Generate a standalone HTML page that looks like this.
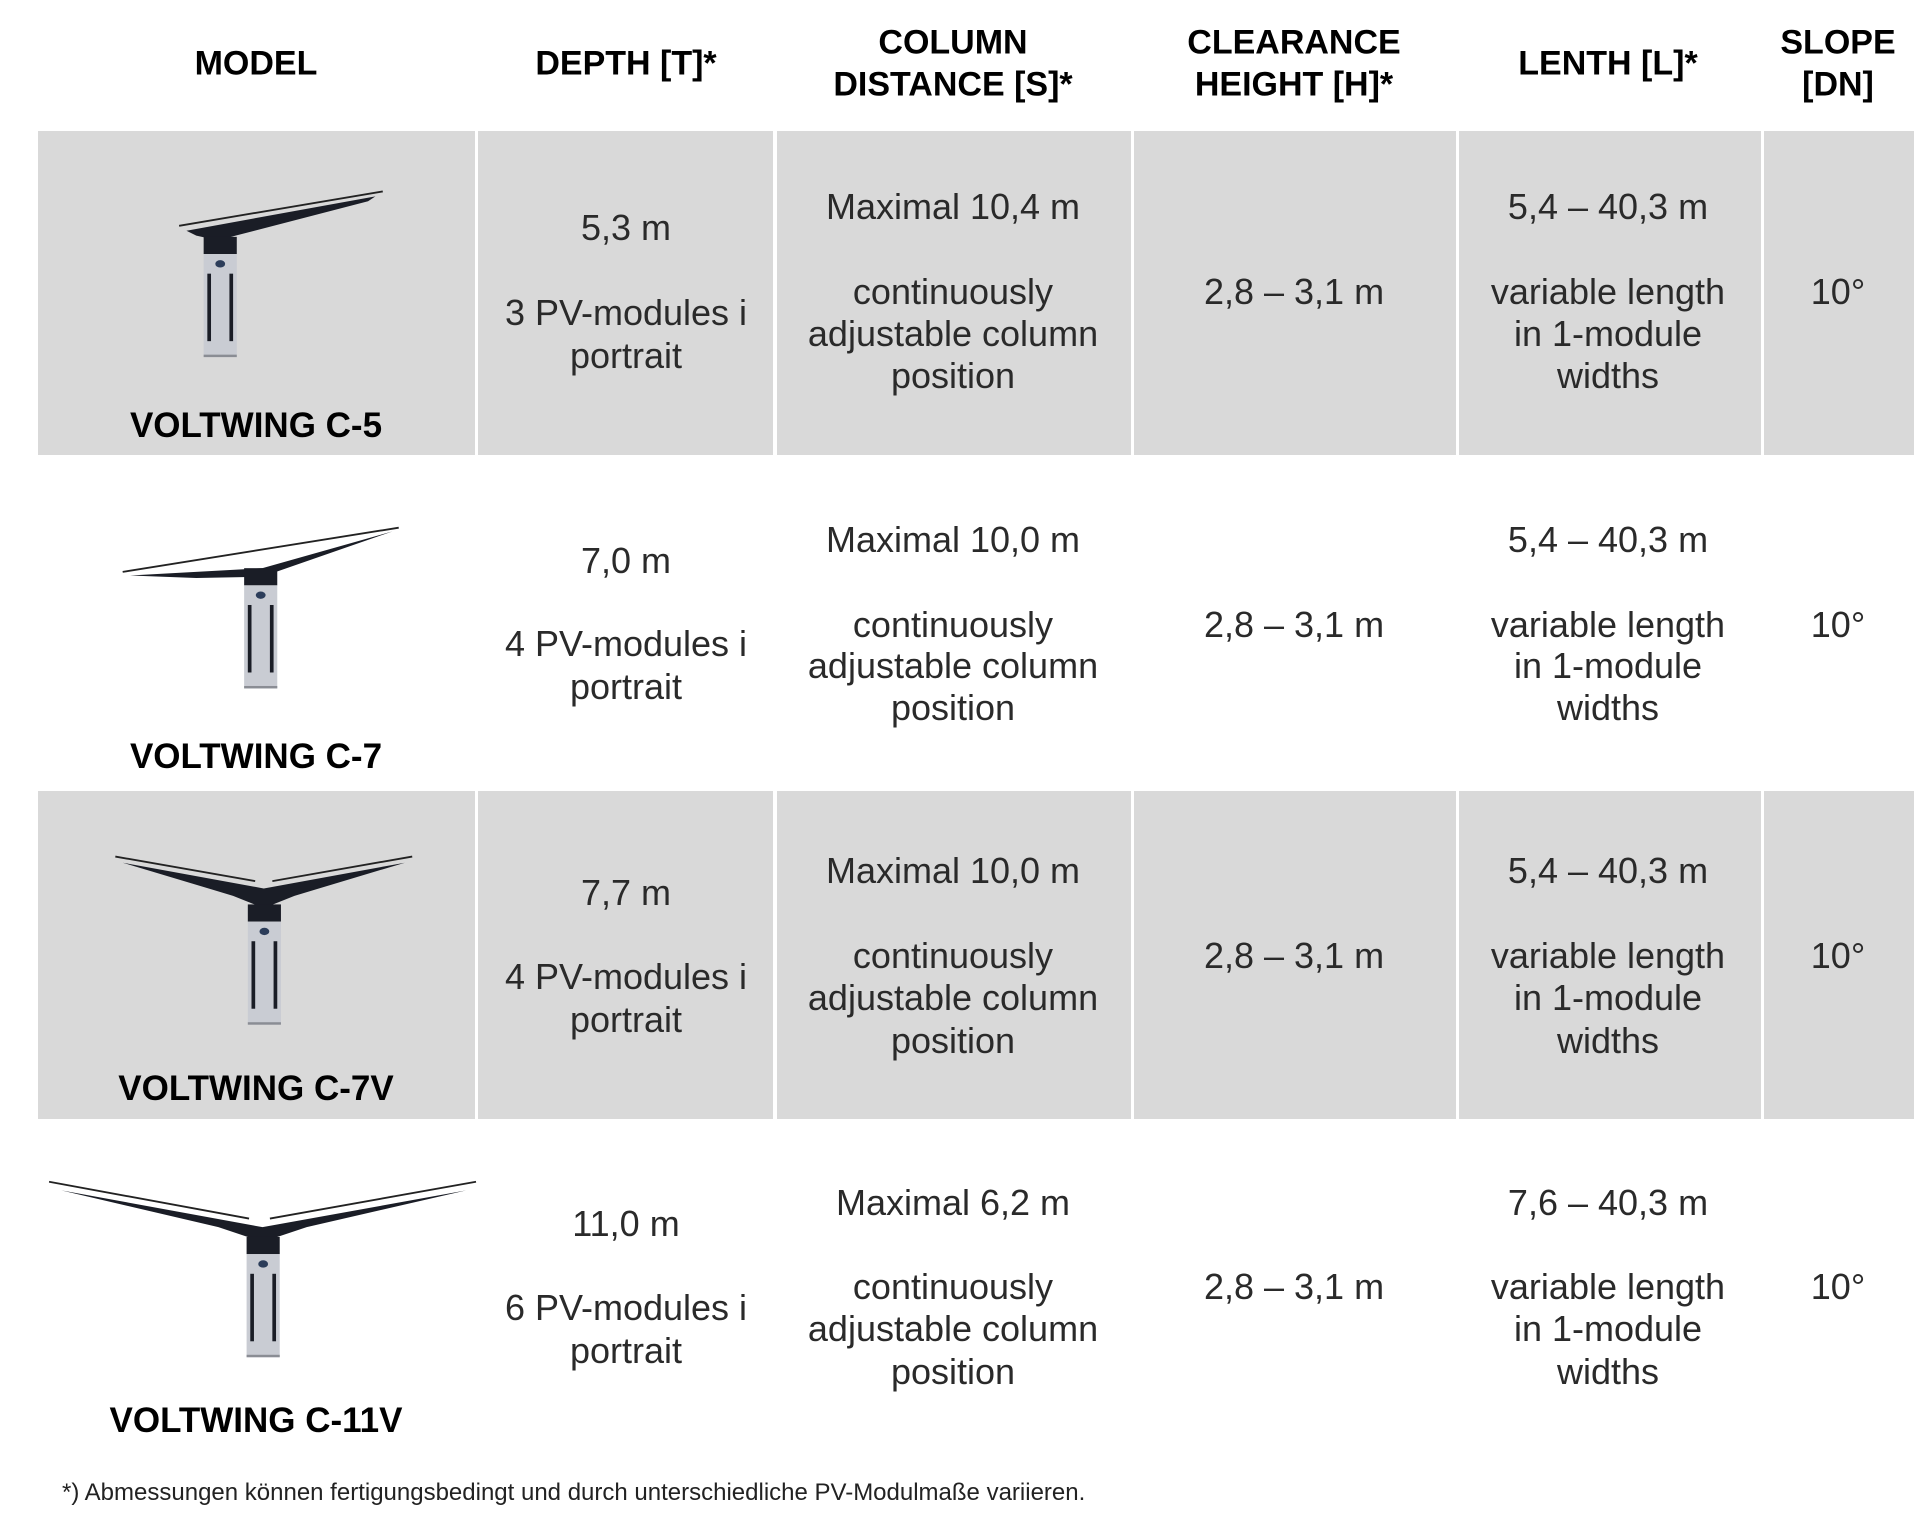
<!DOCTYPE html>
<html><head><meta charset="utf-8"><style>
html,body{margin:0;padding:0;background:#fff;}
body{width:1920px;height:1518px;position:relative;overflow:hidden;font-family:"Liberation Sans",sans-serif;color:#2a2a2a;}
.g{position:absolute;background:#d9d9d9;}
.t{position:absolute;transform:translate(-50%,-50%);white-space:nowrap;font-size:36px;}
.h{font-weight:bold;font-size:34px;color:#000;}
.m{font-weight:bold;font-size:35px;color:#000;}
svg{position:absolute;left:0;top:0;}
</style></head><body>
<div class="g" style="left:38px;top:131px;width:437px;height:324px"></div>
<div class="g" style="left:478px;top:131px;width:295px;height:324px"></div>
<div class="g" style="left:777px;top:131px;width:354px;height:324px"></div>
<div class="g" style="left:1134px;top:131px;width:322px;height:324px"></div>
<div class="g" style="left:1459px;top:131px;width:302px;height:324px"></div>
<div class="g" style="left:1764px;top:131px;width:150px;height:324px"></div>

<div class="g" style="left:38px;top:791px;width:437px;height:328px"></div>
<div class="g" style="left:478px;top:791px;width:295px;height:328px"></div>
<div class="g" style="left:777px;top:791px;width:354px;height:328px"></div>
<div class="g" style="left:1134px;top:791px;width:322px;height:328px"></div>
<div class="g" style="left:1459px;top:791px;width:302px;height:328px"></div>
<div class="g" style="left:1764px;top:791px;width:150px;height:328px"></div>

<div class="t h" style="left:256px;top:64px">MODEL</div>
<div class="t h" style="left:626px;top:64px">DEPTH [T]*</div>
<div class="t h" style="left:953px;top:43px">COLUMN</div>
<div class="t h" style="left:953px;top:85px">DISTANCE [S]*</div>
<div class="t h" style="left:1294px;top:43px">CLEARANCE</div>
<div class="t h" style="left:1294px;top:85px">HEIGHT [H]*</div>
<div class="t h" style="left:1608px;top:64px">LENTH [L]*</div>
<div class="t h" style="left:1838px;top:43px">SLOPE</div>
<div class="t h" style="left:1838px;top:85px">[DN]</div>

<div class="t m" style="left:256px;top:426px">VOLTWING C-5</div>
<div class="t" style="left:626px;top:228px">5,3 m</div>
<div class="t" style="left:626px;top:313px">3 PV-modules i</div>
<div class="t" style="left:626px;top:356px">portrait</div>
<div class="t" style="left:953px;top:207px">Maximal 10,4 m</div>
<div class="t" style="left:953px;top:292px">continuously</div>
<div class="t" style="left:953px;top:334px">adjustable column</div>
<div class="t" style="left:953px;top:376px">position</div>
<div class="t" style="left:1294px;top:292px">2,8 – 3,1 m</div>
<div class="t" style="left:1608px;top:207px">5,4 – 40,3 m</div>
<div class="t" style="left:1608px;top:292px">variable length</div>
<div class="t" style="left:1608px;top:334px">in 1-module</div>
<div class="t" style="left:1608px;top:376px">widths</div>
<div class="t" style="left:1838px;top:292px">10°</div>

<div class="t m" style="left:256px;top:757px">VOLTWING C-7</div>
<div class="t" style="left:626px;top:561px">7,0 m</div>
<div class="t" style="left:626px;top:644px">4 PV-modules i</div>
<div class="t" style="left:626px;top:687px">portrait</div>
<div class="t" style="left:953px;top:540px">Maximal 10,0 m</div>
<div class="t" style="left:953px;top:625px">continuously</div>
<div class="t" style="left:953px;top:666px">adjustable column</div>
<div class="t" style="left:953px;top:708px">position</div>
<div class="t" style="left:1294px;top:625px">2,8 – 3,1 m</div>
<div class="t" style="left:1608px;top:540px">5,4 – 40,3 m</div>
<div class="t" style="left:1608px;top:625px">variable length</div>
<div class="t" style="left:1608px;top:666px">in 1-module</div>
<div class="t" style="left:1608px;top:708px">widths</div>
<div class="t" style="left:1838px;top:625px">10°</div>

<div class="t m" style="left:256px;top:1089px">VOLTWING C-7V</div>
<div class="t" style="left:626px;top:893px">7,7 m</div>
<div class="t" style="left:626px;top:977px">4 PV-modules i</div>
<div class="t" style="left:626px;top:1020px">portrait</div>
<div class="t" style="left:953px;top:871px">Maximal 10,0 m</div>
<div class="t" style="left:953px;top:956px">continuously</div>
<div class="t" style="left:953px;top:998px">adjustable column</div>
<div class="t" style="left:953px;top:1041px">position</div>
<div class="t" style="left:1294px;top:956px">2,8 – 3,1 m</div>
<div class="t" style="left:1608px;top:871px">5,4 – 40,3 m</div>
<div class="t" style="left:1608px;top:956px">variable length</div>
<div class="t" style="left:1608px;top:998px">in 1-module</div>
<div class="t" style="left:1608px;top:1041px">widths</div>
<div class="t" style="left:1838px;top:956px">10°</div>

<div class="t m" style="left:256px;top:1421px">VOLTWING C-11V</div>
<div class="t" style="left:626px;top:1224px">11,0 m</div>
<div class="t" style="left:626px;top:1308px">6 PV-modules i</div>
<div class="t" style="left:626px;top:1351px">portrait</div>
<div class="t" style="left:953px;top:1203px">Maximal 6,2 m</div>
<div class="t" style="left:953px;top:1287px">continuously</div>
<div class="t" style="left:953px;top:1329px">adjustable column</div>
<div class="t" style="left:953px;top:1372px">position</div>
<div class="t" style="left:1294px;top:1287px">2,8 – 3,1 m</div>
<div class="t" style="left:1608px;top:1203px">7,6 – 40,3 m</div>
<div class="t" style="left:1608px;top:1287px">variable length</div>
<div class="t" style="left:1608px;top:1329px">in 1-module</div>
<div class="t" style="left:1608px;top:1372px">widths</div>
<div class="t" style="left:1838px;top:1287px">10°</div>

<div style="position:absolute;left:62px;top:1479px;font-size:24px;color:#222;white-space:nowrap">*) Abmessungen können fertigungsbedingt und durch unterschiedliche PV-Modulmaße variieren.</div>

<svg width="1920" height="1518" viewBox="0 0 1565 1237" preserveAspectRatio="none">
<defs>
<g id="col">
<rect x="0" y="0" width="27" height="14" fill="#1a1d26"/>
<rect x="0" y="14" width="27" height="84" fill="#c9ccd3"/>
<rect x="3" y="30" width="3" height="55" fill="#1a1d26"/>
<rect x="21" y="30" width="3" height="55" fill="#1a1d26"/>
<ellipse cx="13.5" cy="22" rx="4" ry="3" fill="#2c3d5a"/>
<rect x="0" y="96" width="27" height="2" fill="#8a8d94"/>
</g>
</defs>
<line x1="146" y1="184" x2="312" y2="156" stroke="#222" stroke-width="1.5"/>
<polygon points="152,188 306,160 300,164 192,192 178,196 160,192" fill="#1a1d26"/>
<use href="#col" x="166" y="193"/>
<line x1="100" y1="466" x2="325" y2="430" stroke="#222" stroke-width="1.5"/>
<polygon points="106,469 214,463 320,433 225,466 212,470 160,471" fill="#1a1d26"/>
<use href="#col" x="199" y="463"/>
<polyline points="94,698 208,718" fill="none" stroke="#222" stroke-width="1.5"/>
<polyline points="222,718 336,698" fill="none" stroke="#222" stroke-width="1.5"/>
<polygon points="100,703 215,724 330,703 240,730 215,740 190,730" fill="#1a1d26"/>
<use href="#col" x="202" y="737"/>
<polyline points="40,963 203,993" fill="none" stroke="#222" stroke-width="1.5"/>
<polyline points="220,993 388,963" fill="none" stroke="#222" stroke-width="1.5"/>
<polygon points="50,970 214,1000 380,970 250,1000 214,1012 178,1000" fill="#1a1d26"/>
<use href="#col" x="201" y="1008"/>
</svg>
</body></html>
